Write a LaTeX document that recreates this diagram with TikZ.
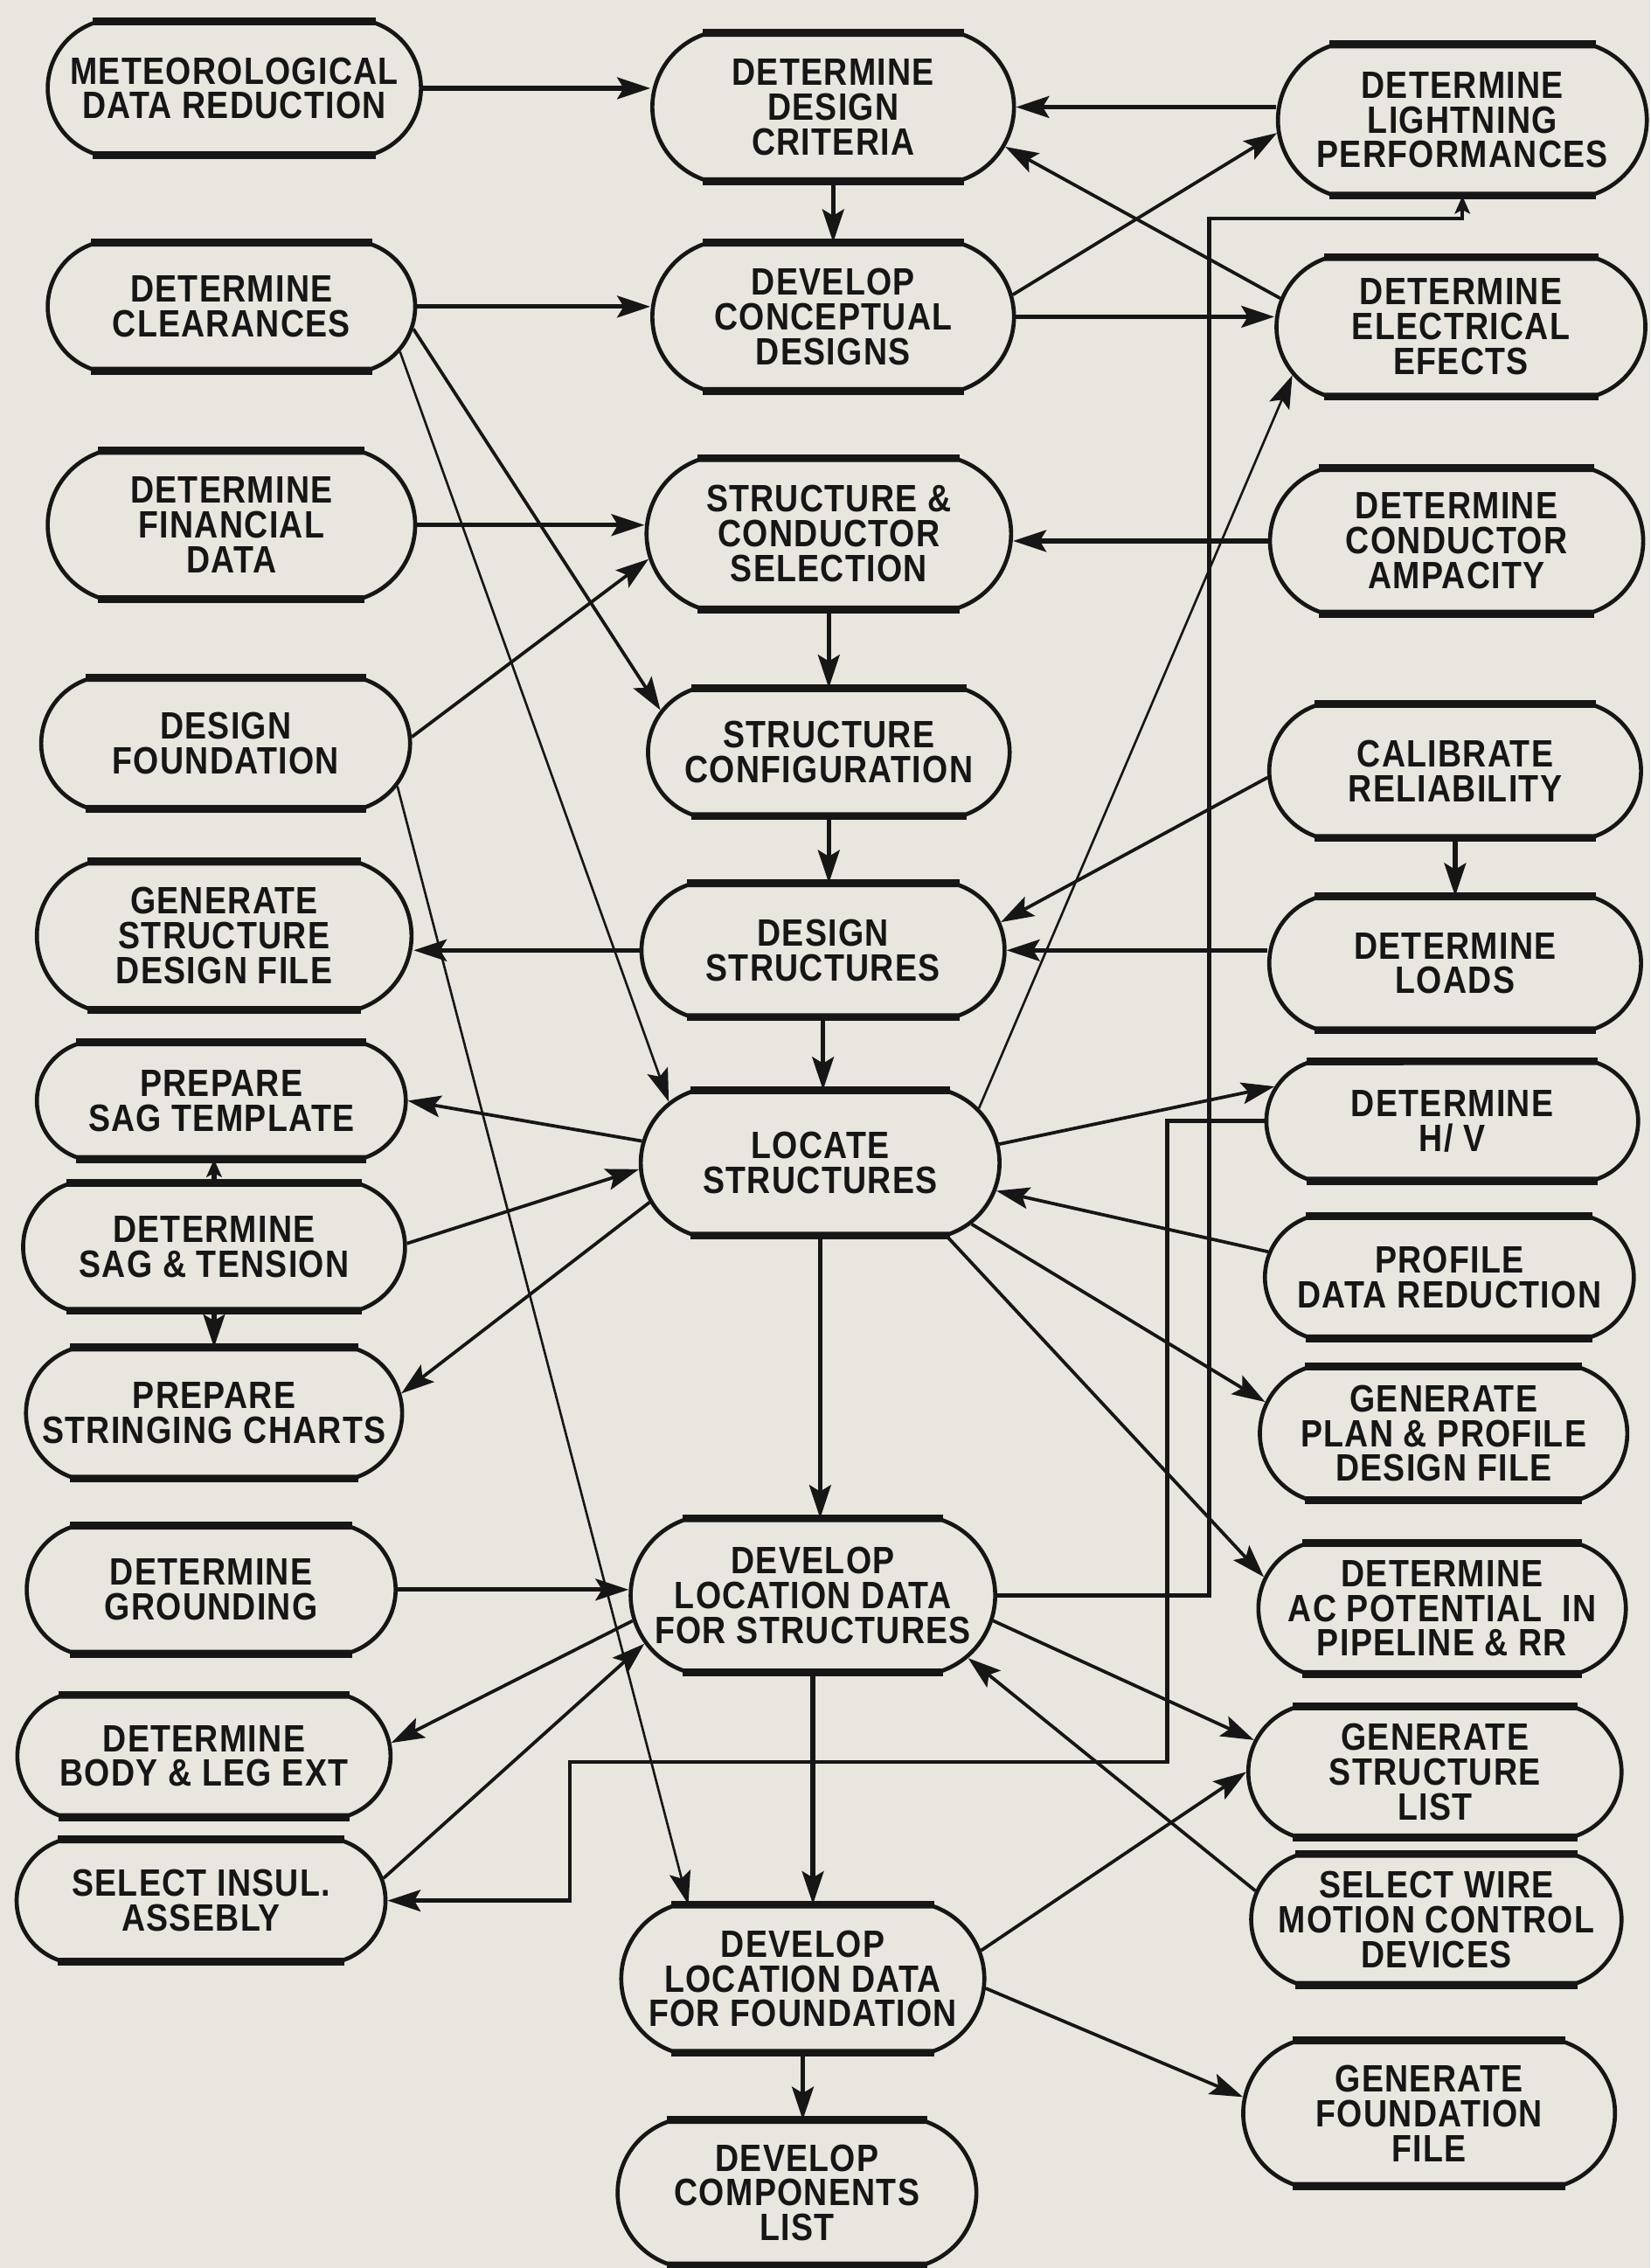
\documentclass[tikz,border=0pt]{standalone}
\usepackage{fontspec}
\usetikzlibrary{arrows.meta,shapes.misc,calc}

\newfontfamily\boxfamily{Liberation Sans}[FakeStretch=0.86,LetterSpace=3]
\newcommand\boxfont{\boxfamily\bfseries\fontsize{15}{13.7}\selectfont}

\definecolor{paper}{RGB}{232,230,222}
\definecolor{ink}{RGB}{22,22,22}

\tikzset{
  box/.style 2 args={shape=rounded rectangle, rounded rectangle arc length=140,
    draw=ink, line width=1.6pt, minimum width=#1*0.02cm, minimum height=#2*0.02cm,
    inner sep=0pt, align=center, text=ink, font=\boxfont,
    append after command={
      (\tikzlastnode.north west) edge[draw=ink,line width=3pt] (\tikzlastnode.north east)
      (\tikzlastnode.south west) edge[draw=ink,line width=3pt] (\tikzlastnode.south east)}},
  tip/.tip={Stealth[length=13pt,width=8.5pt,inset=2.5pt]},
  smalltip/.tip={Stealth[length=7pt,width=6pt,inset=1.5pt]},
  heavy/.style={draw=ink, line width=1.8pt, -tip},
  conn/.style={draw=ink, line width=1.3pt, -tip},
  thinline/.style={draw=ink, line width=0.9pt, -tip},
  bus/.style={draw=ink, line width=1.5pt},
}

\begin{document}
\begin{tikzpicture}[x=0.02cm,y=-0.02cm]
\fill[paper] (0,0) rectangle (1141,1568);
\useasboundingbox (0,0) rectangle (1141,1568);

% left column
\node[box={258}{90}]  (met) at (162,61)   {METEOROLOGICAL\\DATA REDUCTION};
\node[box={254}{86}]  (clr) at (160,212)  {DETERMINE\\CLEARANCES};
\node[box={254}{100}] (fin) at (160,363)  {DETERMINE\\FINANCIAL\\DATA};
\node[box={255}{88}]  (dfo) at (156,514)  {DESIGN\\FOUNDATION};
\node[box={259}{100}] (gsd) at (155,647)  {GENERATE\\STRUCTURE\\DESIGN FILE};
\node[box={255}{78}]  (pst) at (153,761)  {PREPARE\\SAG TEMPLATE};
\node[box={264}{86}]  (dst) at (148,862)  {DETERMINE\\SAG \& TENSION};
\node[box={260}{88}]  (psc) at (148,977)  {PREPARE\\STRINGING CHARTS};
\node[box={255}{86}]  (gnd) at (146,1099) {DETERMINE\\GROUNDING};
\node[box={258}{82}]  (ble) at (141,1214) {DETERMINE\\BODY \& LEG EXT};
\node[box={255}{82}]  (sia) at (139,1314) {SELECT INSUL.\\ASSEBLY};

% middle column
\node[box={250}{100}] (ddc) at (576,74)   {DETERMINE\\DESIGN\\CRITERIA};
\node[box={250}{100}] (dcd) at (576,219)  {DEVELOP\\CONCEPTUAL\\DESIGNS};
\node[box={252}{102}] (scs) at (573,369)  {STRUCTURE \&\\CONDUCTOR\\SELECTION};
\node[box={250}{86}]  (scf) at (573,520)  {STRUCTURE\\CONFIGURATION};
\node[box={251}{90}]  (dsn) at (569,657)  {DESIGN\\STRUCTURES};
\node[box={248}{98}]  (loc) at (567,804)  {LOCATE\\STRUCTURES};
\node[box={252}{104}] (lds) at (562,1103) {DEVELOP\\LOCATION DATA\\FOR STRUCTURES};
\node[box={251}{100}] (ldf) at (555,1368) {DEVELOP\\LOCATION DATA\\FOR FOUNDATION};
\node[box={248}{98}]  (dcp) at (551,1516) {DEVELOP\\COMPONENTS\\LIST};

% right column
\node[box={255}{102}] (dlp) at (1011,83)  {DETERMINE\\LIGHTNING\\PERFORMANCES};
\node[box={255}{94}]  (dee) at (1010,226) {DETERMINE\\ELECTRICAL\\EFECTS};
\node[box={258}{98}]  (dca) at (1007,374) {DETERMINE\\CONDUCTOR\\AMPACITY};
\node[box={257}{90}]  (cr)  at (1006,533) {CALIBRATE\\RELIABILITY};
\node[box={257}{90}]  (dl)  at (1006,666) {DETERMINE\\LOADS};
\node[box={257}{80}]  (dhv) at (1004,775) {DETERMINE\\H/ V};
\node[box={255}{82}]  (pdr) at (1002,883) {PROFILE\\DATA REDUCTION};
\node[box={254}{90}]  (gpp) at (998,991)  {GENERATE\\PLAN \& PROFILE\\DESIGN FILE};
\node[box={254}{88}]  (dac) at (997,1112) {DETERMINE\\AC POTENTIAL\ \ IN\\PIPELINE \& RR};
\node[box={258}{88}]  (gsl) at (992,1225) {GENERATE\\STRUCTURE\\LIST};
\node[box={256}{88}]  (swm) at (993,1327) {SELECT WIRE\\MOTION CONTROL\\DEVICES};
\node[box={257}{98}]  (gff) at (988,1461) {GENERATE\\FOUNDATION\\FILE};

% bend points of the two routed lines
\coordinate (busA) at (836,151);
\coordinate (busB) at (807,1218);
\coordinate (busC) at (394,1218);

% connectors
\draw[heavy] (met.east) -- (met.east -| ddc.west);
\draw[heavy] (ddc.east -| dlp.west) -- (ddc.east);
\draw[heavy] (ddc.south) -- (dcd.north);
\draw[conn] (dcd.7) -- (dlp.184);
\draw[conn] (dee.171) -- (ddc.-13);
\draw[heavy] (dcd.east) -- (dcd.east -| dee.west);
\draw[heavy] (clr.east) -- (clr.east -| dcd.west);
\draw[conn] (clr.-7) -- (scf.166);
\draw[thinline] (clr.-15) -- (loc.158);
\draw[heavy] (fin.east) -- (fin.east -| scs.west);
\draw[conn] (dfo.2) -- (scs.188);
\draw[thinline] (dfo.-14) -- (ldf.147);
\draw[heavy] (dca.west) -- (dca.west -| scs.east);
\draw[heavy] (scs.south) -- (scf.north);
\draw[heavy] (scf.south) -- (scf.south |- dsn.north);
\draw[conn] (cr.182) -- (dsn.9);
\draw[heavy] (cr.south) -- (dl.north);
\draw[heavy] (dsn.east -| dl.west) -- (dsn.east);
\draw[heavy] (dsn.west) -- (dsn.west -| gsd.east);
\draw[heavy] (dsn.south) -- (dsn.south |- loc.north);
\draw[conn] (loc.173) -- (pst.east);
\draw[draw=ink, line width=1.8pt, -smalltip] (dst.north) -- (dst.north |- pst.south);
\draw[conn] (dst.1) -- (loc.182);
\draw[heavy] (dst.south) -- (dst.south |- psc.north);
\draw[conn] (loc.193) -- (psc.6);
\draw[thinline] (loc.19) -- (dee.196);
\draw[conn] (loc.6) -- (dhv.169);
\draw[conn] (pdr.172) -- (loc.-9);
\draw[conn] (loc.-22) -- (gpp.170);
\draw[conn] (loc.-30) -- (dac.170);
\draw[heavy] (loc.south) -- (loc.south |- lds.north);
\draw[heavy] (gnd.east) -- (gnd.east -| lds.west);
\draw[conn] (lds.188) -- (ble.4);
\draw[conn] (sia.7) -- (lds.196);
\draw[conn] (lds.-8) -- (gsl.170);
\draw[conn] (swm.171) -- (lds.-22);
\draw[heavy] (lds.south) -- (lds.south |- ldf.north);
\draw[conn] (ldf.9) -- (gsl.180);
\draw[conn] (ldf.-3) -- (gff.175);
\draw[heavy] (ldf.south) -- (ldf.south |- dcp.north);

% routed lines
\draw[bus, -smalltip] (lds.east) -| (busA) -| (dlp.south);
\draw[bus, -tip] (dhv.west) -| (busB) -- (busC) |- (sia.east);
\end{tikzpicture}
\end{document}
